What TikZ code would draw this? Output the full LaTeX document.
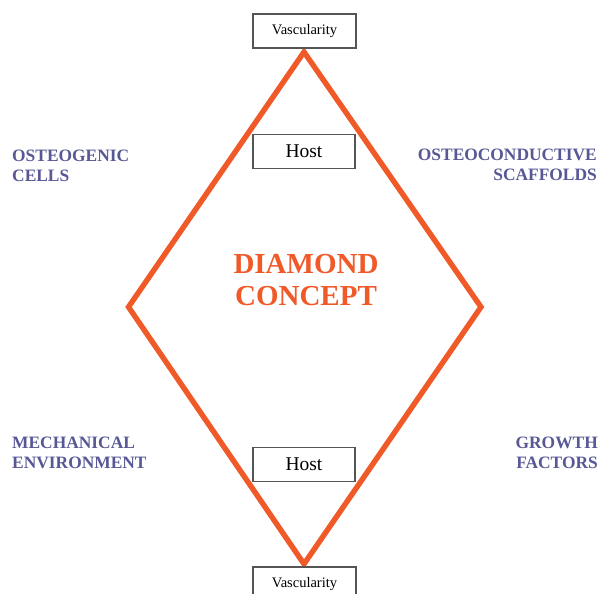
\documentclass[tikz,border=0pt]{standalone}
\usepackage{fontspec}
\setmainfont{Liberation Serif}
\definecolor{dorange}{RGB}{240,90,40}
\definecolor{lblue}{RGB}{88,88,150}
\definecolor{boxgray}{RGB}{85,85,85}
\begin{document}
\begin{tikzpicture}[x=1pt,y=-1pt,
  factor/.style={inner sep=0pt,text=lblue,font=\fontsize{17.4}{20}\selectfont\bfseries},
  title/.style={inner sep=0pt,text=dorange,font=\fontsize{29}{32}\selectfont\bfseries},
  hostbox/.style={draw=boxgray,line width=1.1pt,fill=white,minimum width=102pt,minimum height=34pt,inner sep=0pt,font=\fontsize{19.5}{22}\selectfont},
  vascbox/.style={draw=boxgray,line width=1.1pt,fill=white,minimum width=103pt,minimum height=34pt,inner sep=0pt,font=\fontsize{14.5}{17}\selectfont}]
\useasboundingbox (0,0) rectangle (603,594);
\fill[white] (0,0) rectangle (603,594);
% diamond vertices
\coordinate (T) at (304,52);
\coordinate (R) at (481,307);
\coordinate (B) at (304,564);
\coordinate (L) at (128.5,307);
\draw[dorange,line width=5.4pt,line join=miter] (T) -- (R) -- (B) -- (L) -- cycle;
% boxes
\node[vascbox] (vtop) at (304.5,31) {Vascularity};
\node[vascbox] (vbot) at (304.5,584) {Vascularity};
\node[hostbox] (htop) at (304,151.5) {Host};
\node[hostbox] (hbot) at (304,464.5) {Host};
% title
\node[title,anchor=base] (t1) at (306,273) {DIAMOND};
\node[title,anchor=base] (t2) at (306,305) {CONCEPT};
% factors
\node[factor,anchor=base west] (og1) at (12,161) {OSTEOGENIC};
\node[factor,anchor=base west] (og2) at (12,181) {CELLS};
\node[factor,anchor=base east] (oc1) at (597,160) {OSTEOCONDUCTIVE};
\node[factor,anchor=base east] (oc2) at (597,180) {SCAFFOLDS};
\node[factor,anchor=base west] (me1) at (12,448) {MECHANICAL};
\node[factor,anchor=base west] (me2) at (12,468) {ENVIRONMENT};
\node[factor,anchor=base east] (gf1) at (598,448) {GROWTH};
\node[factor,anchor=base east] (gf2) at (598,468) {FACTORS};
\end{tikzpicture}
\end{document}
